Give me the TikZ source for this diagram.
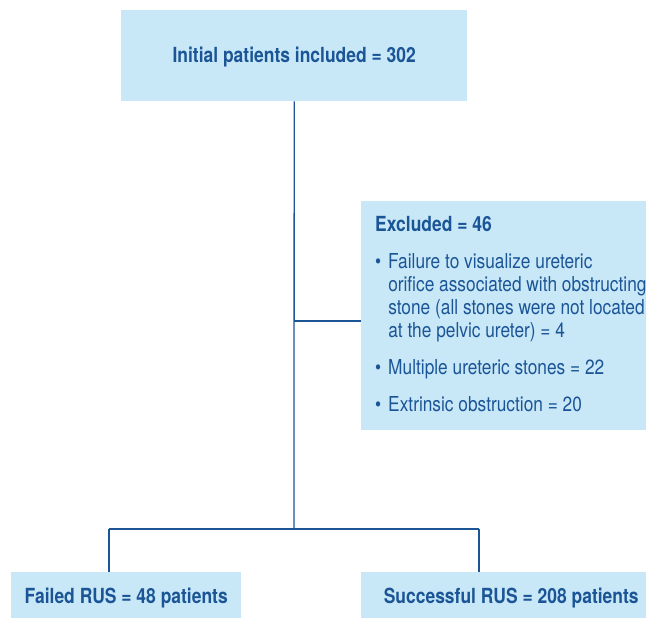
\documentclass[tikz,border=0pt]{standalone}
\usepackage{fontspec}
\setmainfont[FakeStretch=0.84]{TeX Gyre Heros}
\usetikzlibrary{positioning, calc}
\definecolor{boxfill}{HTML}{C8E8F8}
\definecolor{darkblue}{HTML}{1B5596}

\begin{document}
\begin{tikzpicture}[
  x=1pt, y=-1pt,
  box/.style  = {fill=boxfill, anchor=north west, inner sep=0pt, text=darkblue,
                 font=\bfseries\fontsize{20.8}{24}\selectfont},
  list/.style = {anchor=north west, inner sep=0pt, text=darkblue,
                 font=\fontsize{20.6}{23}\selectfont},
  link/.style = {darkblue, line width=1.3pt}
]
  \useasboundingbox (0,0) rectangle (646,618);

  % Initial patients
  \node[box, minimum width=346pt, minimum height=91pt, text height=17.5pt, text depth=4.4pt]
    (initial) at (121,10) {Initial patients included = 302};

  % Excluded (box runs past the right edge)
  \node[box, minimum width=300pt, minimum height=229pt] (excluded) at (361,201) {};
  \node[list] (exclist) at (375,215) {
    \begin{tabular}{@{}l@{\hspace{7pt}}l@{}}
      \multicolumn{2}{@{}l}{\bfseries\fontsize{20.8}{23}\selectfont Excluded = 46} \\[14pt]
      \textbullet & Failure to visualize ureteric \\
                  & orifice associated with obstructing \\
                  & stone (all stones were not located \\
                  & at the pelvic ureter) = 4 \\[14pt]
      \textbullet & Multiple ureteric stones = 22 \\[14pt]
      \textbullet & Extrinsic obstruction = 20
    \end{tabular}
  };

  % Outcomes
  \node[box, minimum width=230pt, minimum height=46pt, text height=21pt, text depth=4.4pt]
    (failed) at (11,572) {Failed RUS = 48 patients};
  \node[box, minimum width=300pt, minimum height=46pt, text height=21pt, text depth=4.4pt]
    (success) at (361,572) {Successful RUS = 208 patients};

  % Connections
  \coordinate (side)  at (294,321);
  \coordinate (split) at (294,529);
  \coordinate (leftdrop)  at (109,529);
  \coordinate (rightdrop) at (479,529);

  \draw[link] (initial.south) -- (split);
  \draw[link] (side) -- (side -| excluded.west);
  \draw[link] (leftdrop) -- (rightdrop);
  \draw[link] (leftdrop) -- (leftdrop |- failed.north);
  \draw[link] (rightdrop) -- (rightdrop |- success.north);

\end{tikzpicture}
\end{document}
